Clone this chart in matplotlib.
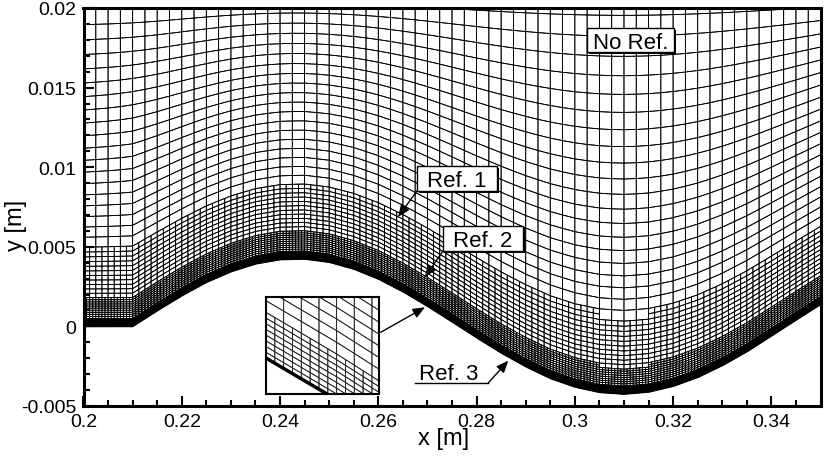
import numpy as np
import matplotlib
matplotlib.use('Agg')
import matplotlib.pyplot as plt
import matplotlib.patheffects as pe
from matplotlib.collections import PolyCollection
from matplotlib.patches import Rectangle
from matplotlib.ticker import MultipleLocator, FuncFormatter

plt.rcParams['font.family'] = ['Liberation Sans', 'DejaVu Sans']

# ── wall profile ──────────────────────────────────────────────────────────────
wall_x = [0.200, 0.205, 0.210, 0.215, 0.220, 0.225, 0.230, 0.235, 0.240, 0.245,
          0.250, 0.255, 0.260, 0.265, 0.270, 0.275, 0.280, 0.285, 0.290, 0.295,
          0.300, 0.305, 0.310, 0.315, 0.320, 0.325, 0.330, 0.335, 0.340, 0.345,
          0.350]
wall_y = [0.0, 0.0, 0.0, 0.00099, 0.00193, 0.00277, 0.00344, 0.00393, 0.00420, 0.00424,
          0.00404, 0.00361, 0.00299, 0.00219, 0.00128, 0.00030, -0.00070, -0.00166, -0.00252, -0.00326,
          -0.00380, -0.00414, -0.00425, -0.00412, -0.00376, -0.00320, -0.00246, -0.00159, -0.00060, 0.00040,
          0.00138]

x_ticks = [0.2, 0.22, 0.24, 0.26, 0.28, 0.3, 0.32, 0.34]
y_ticks = [-0.005, 0, 0.005, 0.01, 0.015, 0.02]

# ── mesh settings ─────────────────────────────────────────────────────────────
dx_base = 0.0025       # coarse cell width
deta_wall = 0.0005     # first coarse row height
eta_growth = 1.025     # row growth ratio
eta_end = 0.024
ref_dist = [0.0049, 0.0017, 0.0005]   # wall distance limits for Ref. 1 / 2 / 3
decay_h = 0.021        # height where the wall wave has died out
blend_h = 0.014
smooth_sigma = 0.008

xd = np.linspace(0.2, 0.35, 1501)
wd = np.interp(xd, wall_x, wall_y)

# smoothed wall used by the upper grid lines (odd reflection at both ends)
npad = 400
left = 2 * wd[0] - wd[1:npad + 1][::-1]
right = 2 * wd[-1] - wd[-npad - 1:-1][::-1]
ext = np.concatenate([left, wd, right])
sig = smooth_sigma / (xd[1] - xd[0])
kx = np.arange(-4 * sig, 4 * sig + 1)
kern = np.exp(-0.5 * (kx / sig) ** 2)
kern /= kern.sum()
wg = np.convolve(ext, kern, mode='same')[npad:npad + len(wd)]


def phys_y(x, e):
    w = np.interp(x, xd, wd)
    g = np.interp(x, xd, wg)
    b = np.clip((e / blend_h) ** 2, 0, 1)
    d = np.clip(1 - (e / decay_h) ** 2, 0, 1)
    return e + d * ((1 - b) * w + b * g)


xw, yw = xd[::2], wd[::2]


def wall_dist(xc, yc):
    out = np.empty(len(xc))
    for i in range(0, len(xc), 1500):
        ddx = xc[i:i + 1500, None] - xw[None, :]
        ddy = yc[i:i + 1500, None] - yw[None, :]
        out[i:i + 1500] = np.sqrt(ddx ** 2 + ddy ** 2).min(axis=1)
    return out


# coarse cells
x_edges = np.arange(0.2, 0.35 + 1e-9, dx_base)
eta = [0.0]
step = deta_wall
while eta[-1] < eta_end:
    eta.append(eta[-1] + step)
    step *= eta_growth
eta = np.array(eta)

X0, E0 = np.meshgrid(x_edges[:-1], eta[:-1])
X1, E1 = np.meshgrid(x_edges[1:], eta[1:])
cells = np.column_stack([X0.ravel(), X1.ravel(), E0.ravel(), E1.ravel()])

leaves = []
for lev in range(3):
    xc = 0.5 * (cells[:, 0] + cells[:, 1])
    ec = 0.5 * (cells[:, 2] + cells[:, 3])
    dist = wall_dist(xc, phys_y(xc, ec))
    flag = dist < ref_dist[lev]
    leaves.append(cells[~flag])
    c = cells[flag]
    xm = 0.5 * (c[:, 0] + c[:, 1])
    em = 0.5 * (c[:, 2] + c[:, 3])
    cells = np.concatenate([
        np.column_stack([c[:, 0], xm, c[:, 2], em]),
        np.column_stack([xm, c[:, 1], c[:, 2], em]),
        np.column_stack([c[:, 0], xm, em, c[:, 3]]),
        np.column_stack([xm, c[:, 1], em, c[:, 3]]),
    ])
leaves.append(cells)
leaves = np.concatenate(leaves)

lx0, lx1, le0, le1 = leaves.T
verts = np.stack([
    np.column_stack([lx0, phys_y(lx0, le0)]),
    np.column_stack([lx1, phys_y(lx1, le0)]),
    np.column_stack([lx1, phys_y(lx1, le1)]),
    np.column_stack([lx0, phys_y(lx0, le1)]),
], axis=1)

# ── figure ────────────────────────────────────────────────────────────────────
fig = plt.figure(figsize=(8.3, 4.6), dpi=100)
fig.patch.set_facecolor('white')
ax = fig.add_axes([83.5 / 830, 53 / 460, 737 / 830, 398 / 460])

ax.add_collection(PolyCollection(verts, facecolors='none', edgecolors='k', linewidths=0.6))
ax.plot(xd, wd, color='k', lw=1.2)

ax.set_xlim(0.2, 0.35)
ax.set_ylim(-0.005, 0.02)
ax.set_xticks(x_ticks)
ax.set_yticks(y_ticks)
ax.xaxis.set_minor_locator(MultipleLocator(0.005))
ax.yaxis.set_minor_locator(MultipleLocator(0.001))
fmt = FuncFormatter(lambda v, p: '%g' % round(v, 6))
ax.xaxis.set_major_formatter(fmt)
ax.yaxis.set_major_formatter(fmt)
ax.tick_params(which='both', direction='in', top=False, right=False, width=1.5, labelsize=14)
ax.tick_params(which='major', length=7, pad=5)
ax.tick_params(which='minor', length=4)
for s in ax.spines.values():
    s.set_linewidth(2.2)

ax.set_xlabel('x [m]', fontsize=17)
ax.set_ylabel('y [m]', fontsize=17)
ax.xaxis.set_label_coords(0.488, -0.052)
ax.yaxis.set_label_coords(-0.076, 0.457)

shadow = [pe.SimplePatchShadow(offset=(1.5, -1.5), shadow_rgbFace='k', alpha=1), pe.Normal()]
cap = 0.716 * 16 * 100 / 72 / 15920  # cap height in y units


def tag(label, xc, yc, w, h):
    r = Rectangle((xc - w / 2, yc - h / 2), w, h, fc='white', ec='k', lw=1, zorder=5)
    r.set_path_effects(shadow)
    ax.add_patch(r)
    ax.text(xc, yc - cap / 2, label, ha='center', va='baseline', fontsize=16, zorder=6)


arrow = dict(arrowstyle='-|>,head_length=0.6,head_width=0.25', color='k', lw=1,
             mutation_scale=12, shrinkA=0, shrinkB=0)

tag('No Ref.', 0.31134, 0.01799, 0.01771, 0.00151)
tag('Ref. 1', 0.27601, 0.00930, 0.01628, 0.00157)
ax.annotate('', xy=(0.26401, 0.00687), xytext=(0.26787, 0.00851), arrowprops=arrow, zorder=6)
tag('Ref. 2', 0.28131, 0.00553, 0.01628, 0.00157)
ax.annotate('', xy=(0.26950, 0.00310), xytext=(0.27316, 0.00474), arrowprops=arrow, zorder=6)

ax.text(0.27440, -0.00330, 'Ref. 3', ha='center', va='baseline', fontsize=16, zorder=6)
ax.plot([0.26747, 0.28233], [-0.00357, -0.00357], color='k', lw=1, zorder=6)
ax.annotate('', xy=(0.28646, -0.00215), xytext=(0.28233, -0.00357), arrowprops=arrow, zorder=6)

ax.annotate('', xy=(0.26950, 0.00120), xytext=(0.26049, -0.00037), arrowprops=arrow, zorder=6)

# ── inset: close-up at the wall ───────────────────────────────────────────────
ins = fig.add_axes([266 / 830, 65 / 460, 113 / 830, 97 / 460])
ins_w = 0.004
ins_h = ins_w * (97 / 113) * (4913 / 15920)
ix0 = 0.2675
iy0 = np.interp(ix0 + 0.54 * ins_w, wall_x, wall_y)
ins.add_collection(PolyCollection(verts, facecolors='none', edgecolors='0.15', linewidths=0.6))
ins.plot(xd, wd, color='k', lw=2.5)
ins.set_xlim(ix0, ix0 + ins_w)
ins.set_ylim(iy0, iy0 + ins_h)
ins.set_xticks([])
ins.set_yticks([])
ins.set_facecolor('white')
for s in ins.spines.values():
    s.set_linewidth(1.5)

fig.savefig('out.png', dpi=100, facecolor='white')
